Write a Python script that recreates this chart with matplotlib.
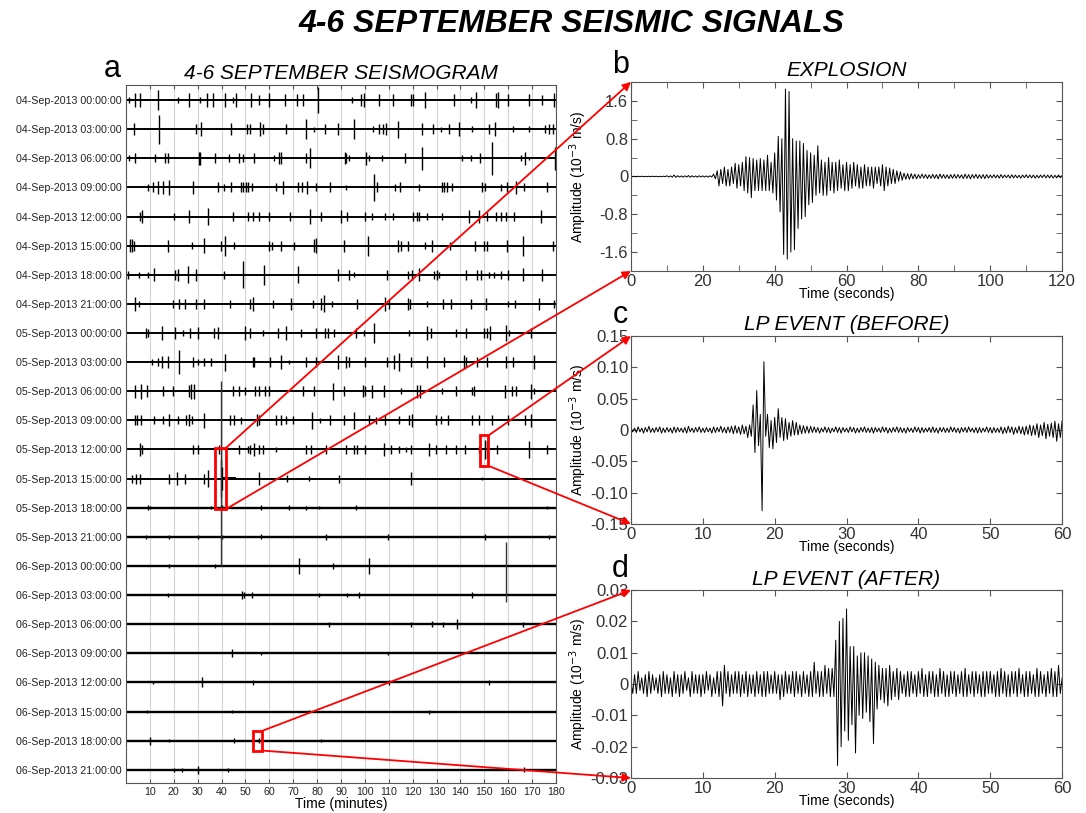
import matplotlib
matplotlib.use("Agg")
import matplotlib.pyplot as plt
from matplotlib.patches import Rectangle, ConnectionPatch
from matplotlib.ticker import FixedLocator

plt.rcParams['font.family'] = ['Liberation Sans', 'DejaVu Sans']

# ---- panel a: 3-hour seismogram rows, spikes as (minute, half-amplitude in % of row spacing)
DAYS = ["04-Sep-2013", "05-Sep-2013", "06-Sep-2013"]
HOURS = ["00:00:00", "03:00:00", "06:00:00", "09:00:00",
         "12:00:00", "15:00:00", "18:00:00", "21:00:00"]
row_labels = [d + " " + h for d in DAYS for h in HOURS]

row_spikes = [
    [(1.1, 10), (3.9, 23), (5.9, 23), (13.5, 34), (21.9, 9), (26.5, 25), (31, 11), (33.9, 25), (36.3, 23),
     (41.6, 25), (44.6, 11), (46, 23), (52.3, 23), (55.5, 17), (60, 25), (66.7, 21), (71.4, 21), (73.9, 21),
     (80.2, 46), (94.6, 11), (98.3, 21), (99.7, 25), (106, 21), (111.6, 21), (119.2, 21), (120, 21),
     (125.2, 29), (137.1, 21), (144.4, 9), (146.7, 29), (154.8, 25), (155.6, 29), (160.1, 21), (168.8, 21),
     (174, 17), (179.2, 25)],
    [(3.5, 21), (13.7, 50), (29.3, 17), (31.4, 25), (43.9, 21), (50.5, 17), (51.9, 17), (56.1, 25), (57.2, 17),
     (66.9, 17), (75.3, 34), (78.8, 9), (83.4, 17), (88.8, 21), (95.3, 34), (103.2, 11), (106, 17), (107.7, 17),
     (108.8, 21), (113.7, 29), (123.7, 21), (128.6, 17), (131.8, 9), (135, 17), (139.5, 23), (145, 11),
     (152, 17), (154.5, 25), (161.8, 11), (168.8, 11), (175.5, 14), (177.1, 17), (178.8, 17)],
    [(1.4, 11), (3.9, 17), (12.3, 14), (16.5, 17), (17.4, 17), (30.4, 23), (31, 23), (37.4, 17), (43.2, 14),
     (47.4, 17), (48.8, 14), (53.4, 17), (61.8, 11), (64.2, 21), (64.9, 21), (75.3, 17), (77.1, 34), (91.8, 21),
     (92.3, 17), (93.2, 11), (100.4, 23), (101.8, 11), (107, 11), (116.9, 17), (124.1, 40), (140.6, 11),
     (144.4, 11), (148.1, 17), (153.4, 57), (165.3, 11), (167.1, 23), (168.8, 6), (179.6, 40)],
    [(9.1, 11), (11.4, 17), (13.2, 21), (15.6, 21), (18.1, 25), (27.9, 21), (38.4, 17), (41.1, 11), (43.9, 17),
     (48.1, 17), (49.1, 17), (50.2, 17), (50.9, 17), (52.7, 14), (62.8, 14), (65.6, 21), (71.8, 17), (73.6, 17),
     (75.7, 21), (79.5, 14), (85.4, 17), (92, 9), (103.9, 46), (104.9, 17), (112.7, 11), (114.6, 17),
     (122.5, 11), (132.2, 17), (133.2, 17), (134.2, 17), (136.4, 14), (149, 17), (150.3, 14), (156.9, 11),
     (159.3, 17), (163.2, 21), (166.7, 14), (176.4, 17)],
    [(5.9, 17), (6.7, 21), (20.2, 11), (26.2, 23), (34.2, 29), (44.9, 14), (50.9, 17), (53, 14), (55.8, 14),
     (60, 14), (68.6, 17), (77, 25), (81.6, 17), (90, 23), (92.7, 14), (100, 17), (102.9, 11), (108.5, 11),
     (111.9, 11), (120.2, 17), (122, 17), (122.7, 14), (126.2, 11), (132.2, 11), (143.7, 21), (147.8, 21),
     (151.3, 17), (154.8, 14), (156.9, 17), (159, 14), (162.5, 14), (173.6, 21)],
    [(1.7, 23), (2.5, 23), (3.5, 17), (17.4, 21), (27.6, 11), (32.8, 25), (39.7, 17), (41.6, 34), (45.3, 11),
     (60, 17), (61.1, 14), (64.9, 17), (70.4, 14), (78.8, 23), (79.5, 25), (91.4, 21), (101.5, 34), (113.7, 21),
     (115.1, 17), (117.9, 17), (125.2, 11), (128, 21), (135.7, 14), (146.2, 17), (149.9, 17), (150.9, 17),
     (159.3, 21), (166, 34), (178.8, 17)],
    [(0.7, 14), (5.3, 11), (9.1, 11), (11.9, 23), (20.6, 17), (21.6, 21), (25.8, 29), (29.3, 21), (41.1, 14),
     (49.1, 46), (57.9, 34), (72.2, 29), (88.6, 21), (93.2, 17), (95.5, 9), (109.1, 17), (117.9, 14),
     (119.9, 17), (122.7, 23), (129, 14), (130, 17), (131.1, 11), (142.3, 17), (147.1, 17), (148.5, 17),
     (152, 11), (154.1, 11), (156.9, 14), (159.7, 17), (166, 23), (174.3, 21)],
    [(3.9, 23), (5.6, 11), (19.5, 14), (22, 17), (24.8, 17), (29.3, 17), (32.8, 17), (43.5, 14), (51.9, 17),
     (53.3, 25), (61.4, 14), (69, 21), (78.1, 14), (81.6, 21), (83, 29), (86.2, 11), (96.5, 17), (108.5, 23),
     (109.9, 17), (117.9, 21), (118.8, 17), (126.2, 11), (132.5, 17), (136, 17), (144.4, 17), (150.6, 21),
     (159.7, 11), (162.9, 14), (173, 21), (179.2, 14)],
    [(8.4, 17), (9.1, 14), (15.1, 23), (20.6, 21), (24, 11), (26.8, 17), (30, 21), (37, 17), (38.4, 21),
     (49.9, 23), (51.9, 17), (57.2, 11), (63.5, 17), (66.9, 23), (73.2, 14), (79.5, 17), (83.4, 17), (84.4, 17),
     (87.2, 14), (96.2, 17), (99.7, 11), (103.9, 34), (118.5, 11), (126.2, 25), (127.6, 17), (138.1, 14),
     (142.3, 17), (149.9, 17), (150.9, 17), (152.4, 23), (159, 29), (160.4, 11), (169.5, 17)],
    [(10.9, 11), (13.2, 14), (15.1, 21), (17.4, 21), (22, 40), (27.9, 17), (30, 11), (32.8, 14), (35.6, 14),
     (41.6, 29), (53, 17), (53.7, 17), (60.3, 17), (64.9, 23), (68.1, 6), (75.3, 17), (79.5, 17), (88.6, 23),
     (92.3, 21), (93.2, 17), (100.1, 17), (109.1, 17), (112.3, 25), (114.1, 32), (119.2, 17), (126.2, 21),
     (132.9, 17), (141.6, 25), (142.3, 17), (147.1, 17), (151.3, 17), (159, 21), (161.8, 17), (170.9, 23)],
    [(3.9, 23), (6.3, 25), (8.6, 21), (15.3, 17), (19.5, 17), (26.2, 21), (27.2, 25), (28.6, 25), (44.6, 17),
     (47.1, 17), (49.9, 14), (54.1, 17), (55.5, 17), (58.3, 17), (59.7, 17), (73.9, 17), (78.8, 17), (86.8, 29),
     (91.4, 17), (99, 21), (100.1, 17), (102.9, 23), (108.1, 21), (115.1, 11), (122, 23), (123, 23),
     (132.2, 11), (138.1, 17), (145, 14), (145.7, 17), (158.7, 23), (161.5, 17), (163.2, 17), (169.5, 25),
     (170.9, 11)],
    [(3.9, 17), (4.5, 17), (6.3, 17), (11.9, 14), (15.3, 14), (18.1, 21), (21.6, 14), (25.1, 17), (26.2, 21),
     (27.6, 14), (32.8, 25), (43.5, 17), (45.3, 17), (48.1, 11), (54.7, 21), (55.5, 17), (62.8, 17), (64.9, 17),
     (66.9, 14), (69.7, 14), (77.8, 29), (81.2, 9), (85.4, 17), (91.4, 17), (95.5, 29), (101.8, 17),
     (104.6, 11), (108.5, 17), (114.4, 14), (118.3, 17), (119.7, 23), (129.7, 17), (131.8, 14), (134.6, 17),
     (145, 17), (147.8, 17), (153.4, 17), (159.7, 17), (167.1, 17), (169.5, 23)],
    [(5.9, 21), (6.7, 14), (27.9, 14), (30, 14), (38.8, 17), (47.4, 17), (50.9, 11), (51.9, 14), (53.7, 23),
     (55.5, 17), (57.5, 17), (62.8, 9), (75.3, 14), (77.4, 14), (83.7, 17), (92, 14), (95.5, 17), (96.9, 17),
     (100.1, 17), (108.1, 21), (110.9, 14), (114.1, 11), (117.2, 9), (119.2, 14), (126.9, 21), (129.7, 14),
     (133.9, 14), (138.1, 14), (142, 14), (147.8, 11), (150.3, 34), (150.9, 29), (155.5, 14), (168.8, 29),
     (176.4, 17)],
    [(2.5, 14), (4.2, 17), (5.9, 17), (18.1, 17), (21.2, 23), (24.8, 17), (32.8, 17), (34.2, 29), (39.7, 63),
     (40.4, 40), (55.5, 23), (67.6, 11), (76.4, 9), (89.3, 14), (119.2, 23), (149.2, 6)],
    [(9.1, 9), (10, 6), (35.6, 6), (40.4, 9), (56.5, 9), (68.3, 9), (75.3, 7), (80.9, 6), (96.2, 9), (176.4, 6)],
    [(8.4, 6), (18.1, 7), (30, 7), (40.2, 6), (56.5, 9), (83.7, 11), (109.5, 11), (150.3, 11), (177.1, 7)],
    [(18.1, 6), (37.4, 6), (72.5, 29), (86.5, 9), (101.8, 29)],
    [(17.4, 6), (48.5, 14), (49.5, 9), (52.7, 9), (80.9, 6), (92.7, 7), (97.6, 9), (145, 9)],
    [(84.8, 9), (119.2, 9), (128, 11), (132.5, 9), (138.4, 17), (166, 9)],
    [(44.4, 14), (56.5, 6), (109.5, 6)],
    [(11.2, 6), (31.8, 17), (53, 9), (110.2, 9), (152, 9)],
    [(8.6, 5), (44.4, 6), (76.4, 6), (126.9, 7)],
    [(10, 14), (18.1, 6), (45.3, 9), (55.5, 9), (81.6, 6)],
    [(20.2, 6), (23.4, 6), (30, 14), (42.5, 6), (166.7, 9)],
]

# large signals crossing rows: (row, minute, reach up, reach down) in row spacings
long_spikes = [(13, 39.7, 3.36, 3.0), (16, 159.0, 0.82, 1.23)]
# sustained wavetrains: (row, start minute, end minute, half-amplitude %)
bursts = [(13, 40.0, 46.0, 5), (14, 143.7, 154.8, 4)]

# zoom boxes on panel a: (min start, min end, row top, row bottom)
boxes = [(37.4, 41.8, 11.95, 14.05), (148.3, 151.7, 11.52, 12.56), (53.3, 57.1, 21.66, 22.34)]

# ---- panel b: explosion, per-second upper/lower peaks (10^-3 m/s), t = 0..120 s
b_up = [0.005, 0.004, 0.005, 0.005, 0.004, 0.005, 0.006, 0.005, 0.004, 0.006,
        0.015, 0.012, 0.03, 0.015, 0.012, 0.014, 0.02, 0.015, 0.012, 0.015,
        0.013, 0.012, 0.014, 0.05, 0.12, 0.15, 0.2, 0.15, 0.2, 0.28,
        0.25, 0.3, 0.42, 0.4, 0.38, 0.35, 0.38, 0.35, 0.45, 0.3,
        0.5, 0.85, 0.8, 1.85, 1.8, 0.8, 0.75, 0.75, 0.7, 0.55,
        0.5, 0.45, 0.65, 0.35, 0.3, 0.4, 0.3, 0.3, 0.35, 0.25,
        0.3, 0.25, 0.3, 0.25, 0.2, 0.25, 0.2, 0.2, 0.2, 0.2,
        0.25, 0.2, 0.18, 0.15, 0.12, 0.1, 0.07, 0.06, 0.06, 0.05,
        0.04, 0.05, 0.04, 0.035, 0.045, 0.04, 0.05, 0.04, 0.035, 0.04,
        0.045, 0.04, 0.035, 0.05, 0.04, 0.04, 0.045, 0.035, 0.04, 0.04,
        0.03, 0.035, 0.03, 0.04, 0.03, 0.03, 0.035, 0.03, 0.025, 0.03,
        0.035, 0.03, 0.03, 0.025, 0.03, 0.035, 0.03, 0.03, 0.025, 0.03,
        0.02]
b_low = [-0.004, -0.005, -0.004, -0.005, -0.005, -0.004, -0.005, -0.006, -0.005, -0.004,
         -0.012, -0.015, -0.02, -0.012, -0.015, -0.013, -0.018, -0.012, -0.015, -0.012,
         -0.014, -0.015, -0.012, -0.05, -0.2, -0.15, -0.2, -0.2, -0.15, -0.25,
         -0.2, -0.3, -0.35, -0.45, -0.3, -0.3, -0.3, -0.3, -0.3, -0.35,
         -0.5, -0.75, -1.65, -1.75, -1.6, -1.55, -1.1, -0.9, -0.85, -0.6,
         -0.55, -0.4, -0.35, -0.4, -0.4, -0.3, -0.35, -0.3, -0.25, -0.3,
         -0.3, -0.25, -0.2, -0.25, -0.25, -0.2, -0.2, -0.25, -0.15, -0.2,
         -0.3, -0.2, -0.15, -0.15, -0.1, -0.08, -0.06, -0.06, -0.05, -0.05,
         -0.04, -0.035, -0.045, -0.04, -0.04, -0.05, -0.035, -0.04, -0.045, -0.04,
         -0.04, -0.035, -0.045, -0.04, -0.05, -0.035, -0.04, -0.04, -0.045, -0.035,
         -0.03, -0.03, -0.035, -0.03, -0.025, -0.035, -0.03, -0.03, -0.035, -0.025,
         -0.03, -0.03, -0.035, -0.03, -0.025, -0.03, -0.03, -0.035, -0.03, -0.025,
         -0.02]

# ---- panel c: LP event before, peaks every 0.5 s, in 10^-6 m/s (thousandths of axis unit)
c_up = [4, 3, 5, 3, 4, 6, 3, 4, 5, 3,
        4, 3, 5, 4, 3, 4, 6, 3, 4, 5,
        3, 4, 3, 5, 4, 6, 4, 5, 6, 7,
        5, 8, 6, 8, 40, 63, 25, 109, 25, 15,
        20, 34, 20, 18, 12, 15, 12, 8, 7, 6,
        6, 5, 4, 3, 5, 4, 3, 5, 4, 4,
        3, 5, 4, 3, 4, 5, 3, 4, 4, 3,
        5, 4, 3, 4, 5, 4, 3, 4, 3, 5,
        4, 4, 3, 4, 5, 3, 4, 4, 3, 5,
        4, 3, 4, 4, 5, 3, 4, 4, 3, 5,
        4, 4, 3, 5, 4, 6, 5, 4, 6, 5,
        6, 8, 7, 10, 8, 12, 9, 11, 14, 10,
        15]
c_low = [-3, -4, -3, -5, -3, -4, -4, -3, -5, -4,
         -3, -5, -4, -3, -4, -5, -3, -4, -3, -4,
         -4, -3, -5, -4, -3, -4, -5, -4, -6, -5,
         -7, -6, -12, -10, -36, -25, -129, -10, -28, -30,
         -20, -12, -17, -15, -10, -8, -8, -6, -5, -5,
         -4, -4, -5, -3, -4, -5, -3, -4, -5, -3,
         -4, -3, -5, -4, -3, -4, -4, -5, -3, -4,
         -3, -5, -4, -3, -4, -4, -5, -3, -4, -3,
         -5, -4, -3, -4, -4, -5, -3, -4, -4, -3,
         -4, -5, -3, -4, -3, -4, -5, -4, -3, -4,
         -5, -4, -4, -6, -5, -4, -7, -5, -6, -8,
         -7, -9, -8, -12, -9, -14, -10, -12, -18, -12,
         -15]

# ---- panel d: LP event after, peaks every 0.5 s, in 10^-6 m/s
d_up = [1, 3, 4, 2, 3, 4, 3, 2, 3, 4,
        3, 2, 4, 3, 3, 4, 2, 4, 3, 3,
        3, 4, 3, 2, 4, 4, 6, 4, 3, 4,
        4, 3, 4, 3, 3, 4, 3, 4, 4, 3,
        4, 3, 3, 4, 3, 4, 4, 3, 4, 3,
        4, 7, 4, 4, 6, 5, 5, 14, 20, 21,
        24, 12, 12, 9, 10, 10, 9, 8, 7, 6,
        5, 5, 6, 4, 5, 4, 3, 4, 4, 3,
        4, 5, 3, 4, 4, 3, 5, 4, 3, 4,
        4, 3, 4, 5, 3, 4, 4, 3, 4, 4,
        4, 3, 4, 5, 4, 3, 4, 4, 5, 3,
        4, 4, 3, 5, 4, 3, 4, 5, 4, 6,
        2]
d_low = [-3, -3, -2, -3, -4, -3, -2, -3, -4, -3,
         -3, -4, -3, -4, -3, -2, -4, -3, -3, -4,
         -3, -2, -4, -3, -4, -7, -3, -4, -3, -3,
         -4, -3, -4, -3, -4, -3, -4, -4, -3, -3,
         -3, -5, -4, -3, -3, -4, -3, -4, -3, -4,
         -4, -3, -4, -4, -3, -4, -4, -26, -20, -15,
         -18, -13, -22, -10, -11, -9, -12, -19, -8, -5,
         -6, -7, -5, -4, -5, -3, -4, -4, -3, -4,
         -3, -4, -4, -3, -4, -4, -3, -4, -4, -3,
         -4, -3, -4, -4, -3, -4, -3, -4, -4, -3,
         -3, -4, -4, -3, -4, -4, -3, -4, -3, -4,
         -4, -3, -4, -4, -3, -4, -3, -4, -4, -3,
         -7]


def zigzag(step, up, low, scale=1.0):
    xs, ys = [], []
    for i, (u, l) in enumerate(zip(up, low)):
        xs += [i * step, i * step + step / 2]
        ys += [u * scale, l * scale]
    return xs, ys


GREY = '#555555'
fig = plt.figure(figsize=(10.86, 8.13), dpi=100)

fig.text(0.526, 0.970, "4-6 SEPTEMBER SEISMIC SIGNALS", ha='center', va='center',
         fontsize=23, fontweight='bold', style='italic')

# panel a
ax_a = fig.add_axes([0.116, 0.037, 0.396, 0.8586])
for i, spikes in enumerate(row_spikes):
    lw_base = 1.4 if i < 14 else 1.7
    ax_a.hlines(i, 0, 180, color='black', lw=lw_base, zorder=2)
    ts = [s[0] for s in spikes]
    amps = [s[1] / 100 for s in spikes]
    ax_a.vlines(ts, [i - a for a in amps], [i + a for a in amps], color='black', lw=1.0, zorder=2)
for row, t, up, down in long_spikes:
    ax_a.vlines(t, row - up, row + down, color='#333333', lw=1.0, zorder=2)
for row, t0, t1, a in bursts:
    ax_a.fill_between([t0, t1], row - a / 100, row + a / 100, color='black', lw=0, zorder=2)

ax_a.set_xlim(0, 180)
ax_a.set_ylim(23.45, -0.52)
ax_a.set_xticks(range(10, 181, 10))
ax_a.set_yticks(range(len(row_labels)))
ax_a.set_yticklabels(row_labels, fontsize=7.7, color='#222222')
ax_a.tick_params(axis='y', length=0, pad=3)
ax_a.tick_params(axis='x', direction='in', top=True, length=3, labelsize=7.7,
                 labelcolor='#222222', color=GREY, pad=3)
ax_a.grid(axis='x', color='#d4d4d4', lw=0.8, zorder=0)
ax_a.set_axisbelow(True)
ax_a.set_xlabel("Time (minutes)", fontsize=10, labelpad=0)
ax_a.set_title("4-6 SEPTEMBER SEISMOGRAM", fontsize=15, style='italic', pad=4)
for s in ax_a.spines.values():
    s.set_color(GREY)

# panels b-d
def style_wave(ax, xmax, xmajor, ymin, ymax, yticks, ylabels, yminor, title):
    ax.set_xlim(0, xmax)
    ax.set_ylim(ymin, ymax)
    ax.set_xticks(xmajor)
    ax.xaxis.set_minor_locator(FixedLocator(list(range(10, xmax, 20)) if xmax > 60 else []))
    ax.set_yticks(yticks)
    ax.set_yticklabels(ylabels)
    ax.yaxis.set_minor_locator(FixedLocator(yminor))
    ax.tick_params(which='both', direction='in', top=True, right=True, length=4,
                   labelsize=12, labelcolor='#333333', color=GREY, pad=2)
    ax.set_xlabel("Time (seconds)", fontsize=10, labelpad=-1)
    ax.set_ylabel("Amplitude (10$^{-3}$ m/s)", fontsize=10)
    ax.yaxis.set_label_coords(-0.097, 0.5)
    ax.set_title(title, fontsize=15, style='italic', pad=4)
    for s in ax.spines.values():
        s.set_color(GREY)


ax_b = fig.add_axes([0.581, 0.6667, 0.397, 0.2325])
xb, yb = zigzag(1.0, b_up, b_low)
ax_b.plot(xb, yb, color='black', lw=0.7)
style_wave(ax_b, 120, list(range(0, 121, 20)), -2, 2,
           [-1.6, -0.8, 0, 0.8, 1.6], ['-1.6', '-0.8', '0', '0.8', '1.6'],
           [-1.2, -0.4, 0.4, 1.2], "EXPLOSION")

ax_c = fig.add_axes([0.581, 0.3555, 0.397, 0.2312])
xc, yc = zigzag(0.5, c_up, c_low, 0.001)
ax_c.plot(xc, yc, color='black', lw=0.7)
style_wave(ax_c, 60, list(range(0, 61, 10)), -0.15, 0.15,
           [-0.15, -0.10, -0.05, 0, 0.05, 0.10, 0.15],
           ['-0.15', '-0.10', '-0.05', '0', '0.05', '0.10', '0.15'], [], "LP EVENT (BEFORE)")

ax_d = fig.add_axes([0.581, 0.0430, 0.397, 0.2312])
xd, yd = zigzag(0.5, d_up, d_low, 0.001)
ax_d.plot(xd, yd, color='black', lw=0.7)
style_wave(ax_d, 60, list(range(0, 61, 10)), -0.03, 0.03,
           [-0.03, -0.02, -0.01, 0, 0.01, 0.02, 0.03],
           ['-0.03', '-0.02', '-0.01', '0', '0.01', '0.02', '0.03'], [], "LP EVENT (AFTER)")

# panel letters
for letter, x, y in [("a", 0.103, 0.905), ("b", 0.571, 0.910), ("c", 0.571, 0.603), ("d", 0.571, 0.290)]:
    fig.text(x, y, letter, fontsize=22, ha='center', va='baseline')

# zoom boxes and connectors
for (t0, t1, r0, r1), target in zip(boxes, [ax_b, ax_c, ax_d]):
    ax_a.add_patch(Rectangle((t0, r0), t1 - t0, r1 - r0, fill=False, ec='red', lw=2, zorder=5))
    for yA, yB in [(r0, 1), (r1, 0)]:
        con = ConnectionPatch(xyA=(t1, yA), coordsA=ax_a.transData, xyB=(0, yB), coordsB=target.transAxes,
                              arrowstyle='-|>', color='red', lw=1.3, mutation_scale=12,
                              shrinkA=0, shrinkB=0, zorder=6)
        fig.add_artist(con)

fig.savefig("out.png", dpi=100)
